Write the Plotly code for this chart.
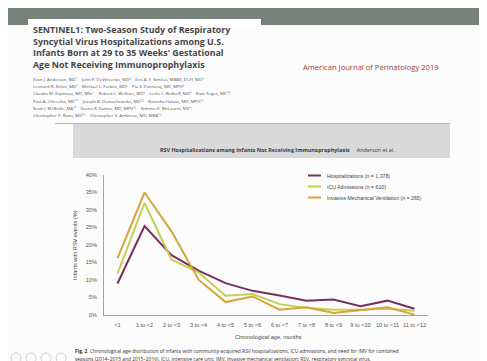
import plotly.graph_objects as go

W, H = 487, 361
# plot area in pixels
PL, PR, PT, PB = 96, 420, 167, 307

categories = ["<1", "1 to <2", "2 to <3", "3 to <4", "4 to <5", "5 to <6", "6 to <7",
              "7 to <8", "8 to <9", "9 to <10", "10 to <11", "11 to <12"]
hospitalizations = [9.0, 25.4, 17.1, 12.7, 9.1, 6.9, 5.6, 4.1, 4.4, 2.5, 4.1, 1.8]
icu_admissions = [11.8, 32.0, 15.8, 12.2, 5.5, 6.0, 3.1, 2.0, 1.5, 1.5, 1.8, 1.2]
imv = [16.2, 35.0, 23.9, 10.1, 3.7, 5.3, 1.5, 2.2, 0.6, 1.5, 2.2, 0.1]
series_names = ["Hospitalizations (<i>n</i> = 1,378)", "ICU Admissions (<i>n</i> = 610)",
                "Invasive Mechanical Ventilation (<i>n</i> = 265)"]
series_colors = ["#7b2f5c", "#c3cf52", "#d6a53c"]
y_ticks = [0, 5, 10, 15, 20, 25, 30, 35, 40]
y_ticktext = [f"{v}%" for v in y_ticks]

title_lines = ["SENTINEL1: Two-Season Study of Respiratory",
               "Syncytial Virus Hospitalizations among U.S.",
               "Infants Born at 29 to 35 Weeks' Gestational",
               "Age Not Receiving Immunoprophylaxis"]
author_lines = [
    "Evan J. Anderson, MD¹    John P. DeVincenzo, MD²    Eric A. F. Simões, MBBS, DCH, MD³",
    "Leonard R. Krilov, MD⁴    Michael L. Forbes, MD⁵    Pia S. Pannaraj, MD, MPH⁶",
    "Claudia M. Espinosa, MD, MSc⁷    Robert C. Welliver, MD⁸    Leslie I. Wolkoff, MD⁹    Ram Yogev, MD¹⁰",
    "Paul A. Checchia, MD¹¹    Joseph B. Domachowske, MD¹²    Natasha Halasa, MD, MPH¹³",
    "Scott J. McBride, MA¹⁴    Veena R. Kumar, MD, MPH¹⁵    Kimmie K. McLaurin, MS¹⁵",
    "Christopher P. Rizzo, MD¹⁵    Christopher S. Ambrose, MD, MBA¹⁵",
]
journal = "American Journal of Perinatology 2019"
panel_header = "<b>RSV Hospitalizations among Infants Not Receiving Immunoprophylaxis</b>     Anderson et al."
x_title = "Chronological age, months"
y_title = "Infants with RSV events (%)"
caption_lines = [
    "<b>Fig. 2</b>  Chronological age distribution of infants with community-acquired RSV hospitalizations, ICU admissions, and need for IMV for combined",
    "seasons (2014–2015 and 2015–2016). ICU, intensive care unit; IMV, invasive mechanical ventilation; RSV, respiratory syncytial virus.",
]


def px(x):
    return (x - PL) / (PR - PL)


def py(y):
    return (PB - y) / (PB - PT)


fig = go.Figure()
for name, vals, col in zip(series_names, [hospitalizations, icu_admissions, imv], series_colors):
    fig.add_trace(go.Scatter(x=categories, y=vals, mode="lines", name=name,
                             line=dict(color=col, width=2), showlegend=False))

shapes = []
annots = []


def rect(x0, y0, x1, y1, fill, line=None, layer="below"):
    shapes.append(dict(type="rect", xref="paper", yref="paper", x0=px(x0), x1=px(x1),
                       y0=py(y1), y1=py(y0), fillcolor=fill, layer=layer,
                       line=dict(width=0) if line is None else line))


def text(x, y, s, size, color="#444", anchor="left", family="Open Sans", angle=0):
    annots.append(dict(xref="paper", yref="paper", x=px(x), y=py(y), text=s, showarrow=False,
                       xanchor=anchor, yanchor="middle", textangle=angle, align="left",
                       font=dict(size=size, color=color, family=family)))


# slide background pieces
rect(0, 0, 478, 17, "#77827b")
rect(20, 11, 253, 20, "#ffffff")
rect(478, 0, 487, 361, "#050505", layer="above")
rect(0, 356, 487, 361, "#0a0a0a", layer="above")
shapes.append(dict(type="line", xref="paper", yref="paper", x0=px(47), x1=px(442), y0=py(115.5),
                   y1=py(115.5), line=dict(color="#b5b5b5", width=1), layer="below"))
rect(65, 116, 442, 150, "#d9d9d9")

# slide navigation icons
for cx in [8, 23, 38, 53]:
    shapes.append(dict(type="circle", xref="paper", yref="paper", x0=px(cx - 5), x1=px(cx + 5),
                       y0=py(355), y1=py(345), line=dict(color="#d0d0d0", width=1), layer="above"))

# title (one text block)
text(23, 38.5, "<br>".join(f"<b>{t}</b>" for t in title_lines), 8.9, "#474747")
for i, t in enumerate(author_lines):
    text(23, 71 + i * 7.2, t, 4.3, "#555")
text(293, 59, journal, 7.6, "#9e3b33")
text(150, 142, panel_header, 5.4, "#3a3a3a")

# axis titles
text(260, 329, x_title, 5.6, "#444", anchor="center", family="Liberation Sans")
text(67, 237, y_title, 5.6, "#444", anchor="center", family="Liberation Sans", angle=-90)

# legend
for i, (name, col) in enumerate(zip(series_names, series_colors)):
    yy = 167.5 + i * 11
    shapes.append(dict(type="line", xref="paper", yref="paper", x0=px(300), x1=px(313),
                       y0=py(yy), y1=py(yy), line=dict(color=col, width=2)))
    text(317, yy, name, 5.2, "#444", family="Liberation Sans")

# caption
for i, t in enumerate(caption_lines):
    text(65, 343 + i * 8, t, 4.9, "#333")

fig.update_layout(
    width=W, height=H,
    margin=dict(l=PL, r=W - PR, t=PT, b=H - PB, pad=0),
    paper_bgcolor="#fcfcfc", plot_bgcolor="rgba(0,0,0,0)",
    shapes=shapes, annotations=annots,
    xaxis=dict(type="category", range=[-0.5, 11.5], showline=True, linecolor="#a3a3a3",
               linewidth=1, showgrid=False, zeroline=False, ticks="",
               tickfont=dict(size=5.6, color="#555", family="Liberation Sans"),
               ticklabelstandoff=4),
    yaxis=dict(range=[0, 40], showline=True, linecolor="#a3a3a3", linewidth=1, showgrid=False,
               zeroline=False, ticks="", tickvals=y_ticks, ticktext=y_ticktext,
               tickfont=dict(size=5.6, color="#555", family="Liberation Sans"),
               ticklabelstandoff=5),
)

fig.write_html("out.html")
